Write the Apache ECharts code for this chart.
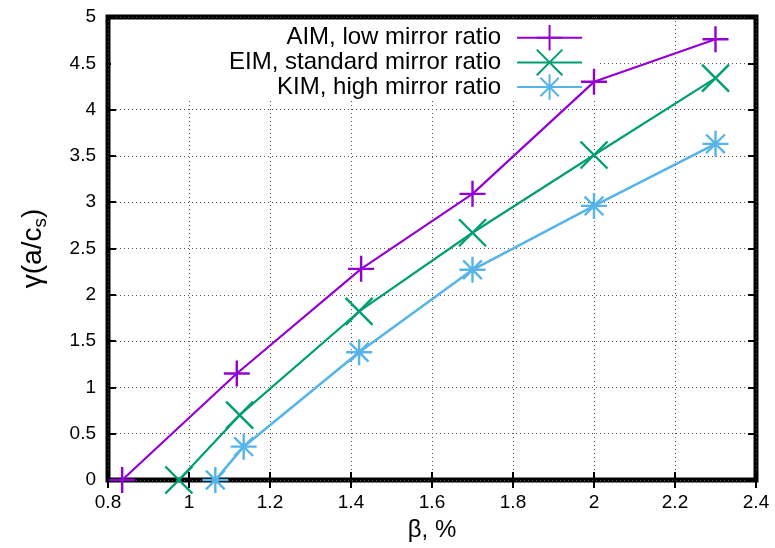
<!DOCTYPE html>
<html>
<head>
<meta charset="utf-8">
<script src="https://cdn.jsdelivr.net/npm/echarts@6/dist/echarts.min.js"></script>
<style>
  html, body { margin: 0; padding: 0; background: #fff; }
  #chart { width: 775px; height: 548px; }
</style>
</head>
<body>
<div id="chart"></div>
<script>
var seriesNames = ['AIM, low mirror ratio', 'EIM, standard mirror ratio', 'KIM, high mirror ratio'];
var aimData = [[0.835, 0], [1.118, 1.15], [1.425, 2.28], [1.70, 3.09], [2.0, 4.30], [2.30, 4.76]];
var eimData = [[0.975, 0], [1.125, 0.70], [1.42, 1.82], [1.70, 2.67], [2.0, 3.51], [2.30, 4.34]];
var kimData = [[1.065, 0], [1.135, 0.36], [1.42, 1.38], [1.70, 2.27], [2.0, 2.96], [2.30, 3.63]];
var colors = ['#9400d3', '#009e73', '#56b4e9'];

var plusPath = 'path://M0,-1L0,1M-1,0L1,0';
var crossPath = 'path://M-1,-1L1,1M-1,1L1,-1';
var starPath = 'path://M0,-1L0,1M-1,0L1,0M-0.72,-0.72L0.72,0.72M-0.72,0.72L0.72,-0.72';

var chart = echarts.init(document.getElementById('chart'));

function makeSeries(name, data, color, symbol, size, width) {
    return {
        name: name,
        type: 'line',
        data: data,
        symbol: symbol,
        symbolSize: size,
        showAllSymbol: true,
        clip: false,
        lineStyle: { color: color, width: width },
        itemStyle: { color: color, borderColor: color, borderWidth: 2.4 },
        emphasis: { disabled: true },
        z: 5
    };
}

var tickFont = { color: '#000', fontSize: 19, fontFamily: 'Liberation Sans' };

var option = {
    animation: false,
    backgroundColor: '#fff',
    grid: {
        left: 108, right: 19, top: 17, bottom: 68,
        show: true,
        borderColor: '#000',
        borderWidth: 5,
        backgroundColor: 'transparent'
    },
    legend: {
        orient: 'vertical',
        left: 111,
        top: 20,
        z: 2,
        padding: [4, 15, 0, 118],
        backgroundColor: '#fff',
        align: 'right',
        itemWidth: 65,
        itemHeight: 32,
        itemGap: -3,
        data: seriesNames,
        textStyle: {
            color: '#000',
            fontSize: 24,
            fontFamily: 'Liberation Sans',
            padding: [0, 11, 0, 0]
        },
        selectedMode: false
    },
    xAxis: [{
        type: 'value',
        min: 0.8, max: 2.4, interval: 0.2,
        position: 'bottom',
        name: 'β, %',
        nameLocation: 'middle',
        nameGap: 38,
        nameTextStyle: { color: '#000', fontSize: 24, fontFamily: 'Liberation Sans' },
        axisLine: { show: false },
        axisTick: { show: true, inside: true, length: 8, lineStyle: { color: '#000', width: 2 } },
        axisLabel: Object.assign({ margin: 13, formatter: function (v) { return +v.toFixed(1) + ''; } }, tickFont),
        splitLine: { show: true, lineStyle: { color: '#555', width: 1, type: [1, 3] } }
    }, {
        type: 'value',
        min: 0.8, max: 2.4, interval: 0.2,
        position: 'top',
        axisLine: { show: false },
        axisTick: { show: true, inside: true, length: 8, lineStyle: { color: '#000', width: 2 } },
        axisLabel: { show: false },
        splitLine: { show: false }
    }],
    yAxis: [{
        type: 'value',
        min: 0, max: 5, interval: 0.5,
        position: 'left',
        name: 'γ(a/c{s|s})',
        nameLocation: 'middle',
        nameGap: 58,
        nameTextStyle: {
            color: '#000', fontSize: 28, fontFamily: 'Liberation Sans',
            rich: { s: { fontSize: 19, fontFamily: 'Liberation Sans', color: '#000', verticalAlign: 'bottom', padding: [14, 0, 0, 0] } }
        },
        axisLine: { show: false },
        axisTick: { show: true, inside: true, length: 8, lineStyle: { color: '#000', width: 2 } },
        axisLabel: Object.assign({ margin: 12 }, tickFont),
        splitLine: { show: true, lineStyle: { color: '#555', width: 1, type: [1, 3] } }
    }, {
        type: 'value',
        min: 0, max: 5, interval: 0.5,
        position: 'right',
        axisLine: { show: false },
        axisTick: { show: true, inside: true, length: 8, lineStyle: { color: '#000', width: 2 } },
        axisLabel: { show: false },
        splitLine: { show: false }
    }],
    series: [
        makeSeries(seriesNames[0], aimData, colors[0], plusPath, 26, 2.2),
        makeSeries(seriesNames[1], eimData, colors[1], crossPath, 27, 2.2),
        makeSeries(seriesNames[2], kimData, colors[2], starPath, 26, 2.6)
    ]
};

chart.setOption(option);
</script>
</body>
</html>
